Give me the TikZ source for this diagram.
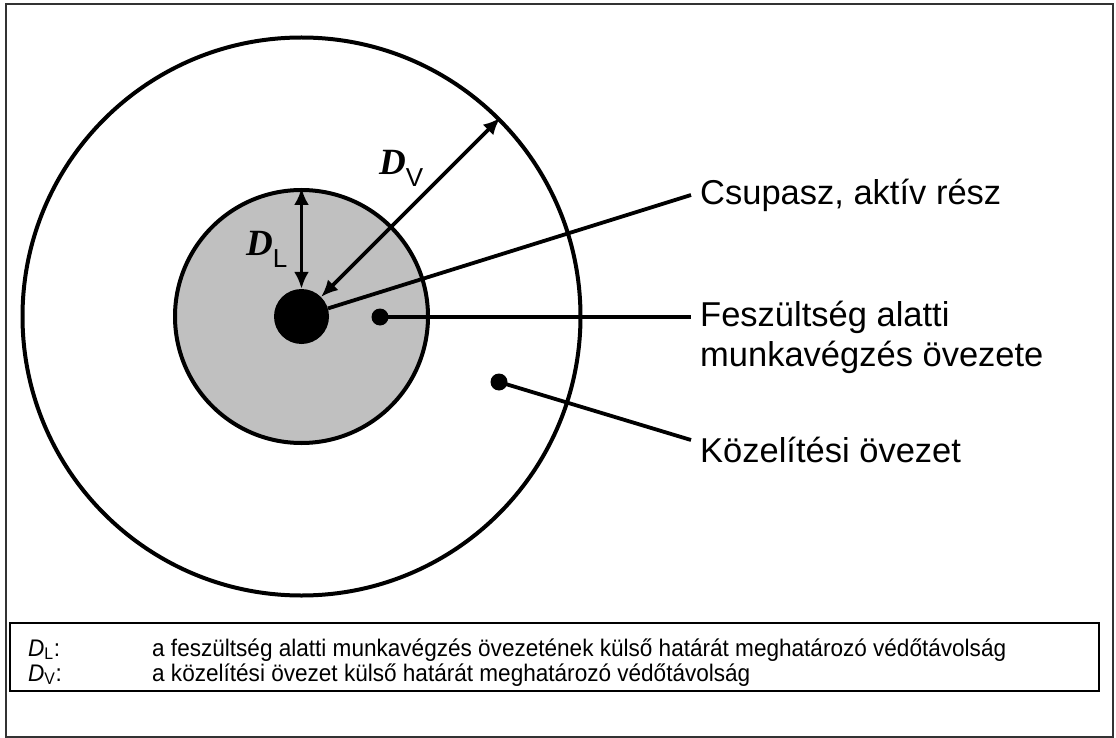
\documentclass[tikz,border=0pt]{standalone}
\usepackage{fontspec}
\setmainfont{Liberation Sans}
\newfontfamily\tnr{Liberation Serif}
\newfontfamily\narrowsans{Liberation Sans}[FakeStretch=0.94]
\usetikzlibrary{arrows.meta}
\definecolor{zonegray}{HTML}{C0C0C0}
\tikzset{
  ring/.style={circle, draw=black, line width=4pt, inner sep=0pt},
  blob/.style={circle, fill=black, inner sep=0pt},
  conn/.style={line width=3.8pt, draw=black},
  dimarrow/.style={line width=3.8pt, {Latex[length=17pt,width=15pt]}-{Latex[length=17pt,width=15pt]}},
  biglabel/.style={anchor=base west, inner sep=0pt, font=\fontsize{34.5}{40}\selectfont},
  legendtxt/.style={anchor=base west, inner sep=0pt, font=\narrowsans\fontsize{24}{24}\selectfont}
}
\begin{document}
\begin{tikzpicture}[x=1pt,y=-1pt]
\useasboundingbox (0,0) rectangle (1116,738);
% outer frame
\draw[line width=1.8pt, black!80] (6,4) rectangle (1113,737);
% zones
\node[ring, minimum size=558pt] (outer) at (301.5,316.5) {};
\node[ring, fill=zonegray, minimum size=253pt] (inner) at (301.5,316.5) {};
\node[blob, minimum size=55pt] (core) at (301.5,316.5) {};
\node[blob, minimum size=17pt] (d1) at (380,317) {};
\node[blob, minimum size=17pt] (d2) at (499,382) {};
% dimension arrows
\draw[dimarrow] (inner.north) -- (core.north);
\draw[dimarrow] (core.45) -- (outer.45);
\node[anchor=base west, inner sep=0pt] (dv) at (379,175)
  {\tnr\bfseries\itshape\fontsize{37}{37}\selectfont D\raisebox{-12pt}{\normalfont\fontsize{26}{26}\selectfont V}};
\node[anchor=base west, inner sep=0pt] (dl) at (246,255)
  {\tnr\bfseries\itshape\fontsize{37}{37}\selectfont D\raisebox{-12pt}{\normalfont\fontsize{26}{26}\selectfont L}};
% label ends
\coordinate (e1) at (691,195);
\coordinate (e2) at (691,317);
\coordinate (e3) at (691,440);
\draw[conn] (core.17) -- (e1);
\draw[conn] (d1.center) -- (e2);
\draw[conn] (d2.center) -- (e3);
\node[biglabel] (t1) at (700,205) {Csupasz, aktív rész};
\node[biglabel] (t2a) at (700,326) {Feszültség alatti};
\node[biglabel] (t2b) at (700,366) {munkavégzés övezete};
\node[biglabel] (t3) at (700,462) {Közelítési övezet};
% legend
\node[draw=black, line width=1.8pt, minimum width=1089pt, minimum height=68pt, inner sep=0pt, anchor=north west] (legend) at (9,622) {};
\node[legendtxt] (l1a) at (28,656) {\textit{D}\textsubscript{L}:};
\node[legendtxt] (l1b) at (152,656) {a feszültség alatti munkavégzés övezetének külső határát meghatározó védőtávolság};
\node[legendtxt] (l2a) at (28,681) {\textit{D}\textsubscript{V}:};
\node[legendtxt] (l2b) at (152,681) {a közelítési övezet külső határát meghatározó védőtávolság};
\end{tikzpicture}
\end{document}
